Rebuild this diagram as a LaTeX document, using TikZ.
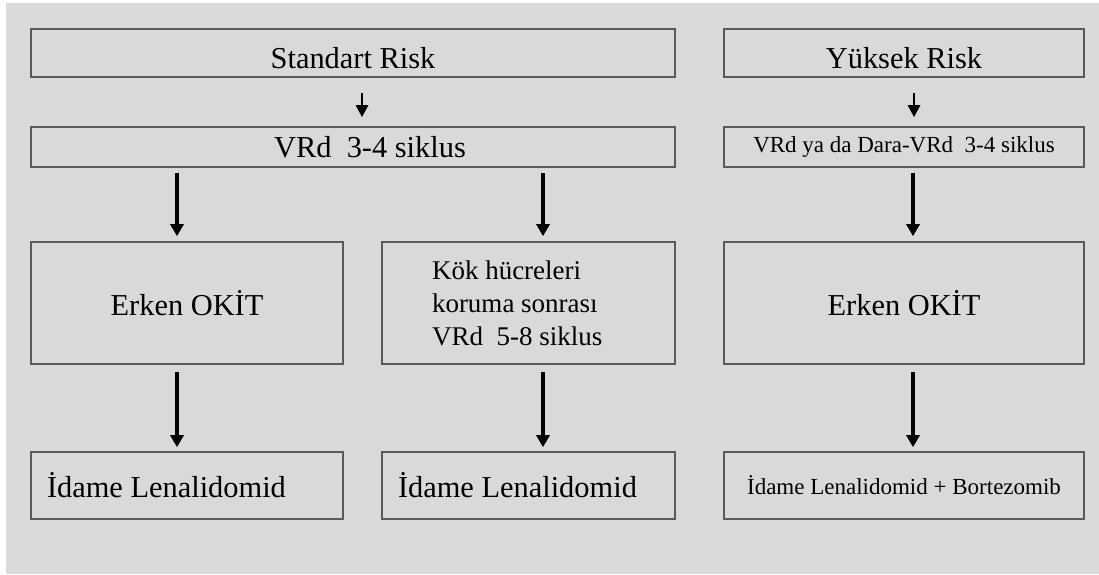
\documentclass[tikz,border=0pt]{standalone}
\usepackage{fontspec}
\setmainfont{Liberation Serif}
\usetikzlibrary{arrows.meta}
\definecolor{panel}{HTML}{D9D9D9}
\definecolor{frame}{HTML}{5A5A5A}

\begin{document}
\begin{tikzpicture}[
  x=1pt, y=-1pt,
  box/.style={draw=frame, line width=1.6pt, fill=panel, align=center, inner sep=0pt},
  big/.style={font=\fontsize{30.4}{36}\selectfont},
  small/.style={font=\fontsize{23}{27}\selectfont},
  riskhead/.style={text height=31pt, text depth=0pt},
  arrow/.style={-{Triangle[width=13pt,length=12pt]}, line width=3.5pt},
  shortarrow/.style={-{Triangle[width=12pt,length=12pt]}, line width=2.7pt}
]
\useasboundingbox (0,0) rectangle (1099,574);
\fill[white] (0,0) rectangle (1099,574);
\fill[panel] (6,3) rectangle (1099,574);

% standart risk column
\node[box, big, riskhead, minimum width=644pt, minimum height=48pt] (std) at (353,53) {Standart Risk};
\node[box, big, minimum width=644pt, minimum height=40pt] (vrd) at (353,147) {\hspace*{34pt}VRd\ \ 3-4 siklus};
\node[box, big, minimum width=312pt, minimum height=122pt] (erkA) at (187,303) {Erken OK\.{I}T};
\node[box, font=\fontsize{27}{33}\selectfont, text width=193pt, inner xsep=50pt, align=flush left, minimum height=122pt] (kok) at (528.5,303) {Kök hücreleri\\koruma sonrası\\VRd\ \ 5-8 siklus};
\node[box, big, text width=280pt, inner xsep=16pt, align=flush left, minimum height=67pt] (idmA) at (187,485.5) {\.{I}dame Lenalidomid};
\node[box, big, text width=261pt, inner xsep=16pt, align=flush left, minimum height=67pt] (idmB) at (528.5,485.5) {\.{I}dame Lenalidomid};

% yuksek risk column
\node[box, big, riskhead, minimum width=360pt, minimum height=48pt] (yuk) at (904,53) {Yüksek Risk};
\node[box, small, minimum width=360pt, minimum height=40pt] (vrdH) at (904,147) {VRd ya da Dara-VRd\ \ 3-4 siklus};
\node[box, big, minimum width=360pt, minimum height=122pt] (erkB) at (904,303) {Erken OK\.{I}T};
\node[box, small, minimum width=360pt, minimum height=67pt] (idmC) at (904,485.5) {\.{I}dame Lenalidomid + Bortezomib};

\draw[shortarrow, shorten <=15pt, shorten >=9pt] ([xshift=9pt]std.south) -- ([xshift=9pt]vrd.north);
\draw[shortarrow, shorten <=15pt, shorten >=9pt] ([xshift=10pt]yuk.south) -- ([xshift=10pt]vrdH.north);

\draw[arrow, shorten <=5pt, shorten >=5pt] ([xshift=-10pt]erkA.north |- vrd.south) -- ([xshift=-10pt]erkA.north);
\draw[arrow, shorten <=5pt, shorten >=5pt] ([xshift=14.5pt]kok.north |- vrd.south) -- ([xshift=14.5pt]kok.north);
\draw[arrow, shorten <=5pt, shorten >=5pt] ([xshift=9pt]vrdH.south) -- ([xshift=9pt]erkB.north);

\draw[arrow, shorten <=7pt, shorten >=4pt] ([xshift=-10pt]erkA.south) -- ([xshift=-10pt]idmA.north);
\draw[arrow, shorten <=7pt, shorten >=4pt] ([xshift=14.5pt]kok.south) -- ([xshift=14.5pt]idmB.north);
\draw[arrow, shorten <=7pt, shorten >=4pt] ([xshift=9pt]erkB.south) -- ([xshift=9pt]idmC.north);

\end{tikzpicture}
\end{document}
